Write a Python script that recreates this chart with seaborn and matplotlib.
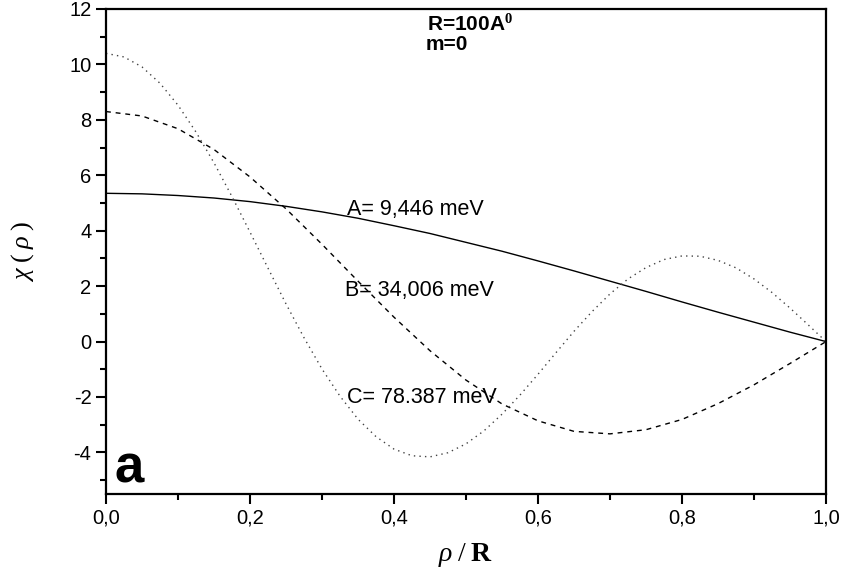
import numpy as np
import pandas as pd
import matplotlib
matplotlib.use("Agg")
import matplotlib.pyplot as plt
import seaborn as sns
from matplotlib.ticker import MultipleLocator, FuncFormatter

# ---- data ----
x_ab = [0.00, 0.05, 0.10, 0.15, 0.20, 0.25, 0.30, 0.35, 0.40, 0.45, 0.50,
        0.55, 0.60, 0.65, 0.70, 0.75, 0.80, 0.85, 0.90, 0.95, 1.00]
chi_A = [5.35, 5.33, 5.27, 5.18, 5.05, 4.88, 4.68, 4.45, 4.18, 3.90, 3.58,
         3.26, 2.91, 2.55, 2.18, 1.81, 1.43, 1.06, 0.70, 0.34, 0.00]
chi_B = [8.30, 8.14, 7.68, 6.93, 5.94, 4.79, 3.51, 2.18, 0.88, -0.33, -1.39,
         -2.25, -2.86, -3.24, -3.33, -3.18, -2.81, -2.24, -1.56, -0.79, 0.00]
x_c = [0.000, 0.025, 0.050, 0.075, 0.100, 0.125, 0.150, 0.175, 0.200, 0.225,
       0.250, 0.275, 0.300, 0.325, 0.350, 0.375, 0.400, 0.425, 0.450, 0.475,
       0.500, 0.525, 0.550, 0.575, 0.600, 0.625, 0.650, 0.675, 0.700, 0.725,
       0.750, 0.775, 0.800, 0.825, 0.850, 0.875, 0.900, 0.925, 0.950, 0.975, 1.000]
chi_C = [10.40, 10.27, 9.91, 9.32, 8.53, 7.56, 6.45, 5.23, 3.95, 2.65,
         1.36, 0.14, -0.99, -1.97, -2.80, -3.43, -3.88, -4.12, -4.16, -4.01,
         -3.69, -3.22, -2.62, -1.93, -1.18, -0.40, 0.37, 1.08, 1.72, 2.26,
         2.67, 2.96, 3.09, 3.08, 2.93, 2.66, 2.26, 1.77, 1.21, 0.61, 0.00]

labels = ["A= 9,446 meV", "B= 34,006 meV", "C= 78.387 meV"]
label_pos = [(0.335, 4.56), (0.332, 1.64), (0.335, -2.23)]

df_A = pd.DataFrame({"x": x_ab, "y": chi_A})
df_B = pd.DataFrame({"x": x_ab, "y": chi_B})
df_C = pd.DataFrame({"x": x_c, "y": chi_C})

sns.set_style("ticks")
plt.rcParams["font.family"] = ["Liberation Sans", "DejaVu Sans"]
plt.rcParams["axes.unicode_minus"] = False
plt.rcParams["mathtext.fontset"] = "custom"
plt.rcParams["mathtext.rm"] = "Liberation Serif"
plt.rcParams["mathtext.it"] = "Liberation Serif:italic"
plt.rcParams["mathtext.bf"] = "Liberation Serif:bold"
for k in ["text.color", "axes.labelcolor", "xtick.color", "ytick.color",
          "xtick.labelcolor", "ytick.labelcolor", "axes.edgecolor"]:
    plt.rcParams[k] = "black"

fig = plt.figure(figsize=(8.48, 5.80), dpi=100)
ax = fig.add_axes([106/848, 86/580, 720/848, 485/580])

sns.lineplot(data=df_A, x="x", y="y", ax=ax, color="black", lw=1.0,
             linestyle="-", estimator=None, sort=False)
sns.lineplot(data=df_B, x="x", y="y", ax=ax, color="black", lw=1.0,
             estimator=None, sort=False, dashes=False)
ax.lines[-1].set_dashes([3.5, 3.5])
sns.lineplot(data=df_C, x="x", y="y", ax=ax, color="#444444", lw=1.0,
             estimator=None, sort=False)
ax.lines[-1].set_dashes([1, 3])

ax.set_xlim(0, 1.0)
ax.set_ylim(-5.5, 12)
ax.xaxis.set_major_locator(MultipleLocator(0.2))
ax.xaxis.set_minor_locator(MultipleLocator(0.1))
ax.yaxis.set_major_locator(MultipleLocator(2))
ax.yaxis.set_minor_locator(MultipleLocator(1))
ax.xaxis.set_major_formatter(FuncFormatter(lambda v, p: f"{v:.1f}".replace(".", ",")))
ax.yaxis.set_major_formatter(FuncFormatter(lambda v, p: f"{int(round(v))}"))
ax.tick_params(which="major", direction="out", length=7.5, width=1.5,
               labelsize=14.5, color="black", top=False, right=False, pad=3)
ax.tick_params(which="minor", direction="out", length=4, width=1.5,
               top=False, right=False)
for s in ax.spines.values():
    s.set_linewidth(1.6)
    s.set_color("black")

ax.set_xlabel(r"$\mathit{\rho}\;/\;\mathbf{R}$", fontsize=20, labelpad=10)
ax.set_ylabel(r"$\chi\;(\;\mathit{\rho}\;)$", fontsize=19, labelpad=24)

for t, (tx, ty) in zip(labels, label_pos):
    ax.text(tx, ty, t, fontsize=15.5, ha="left", va="baseline")

ax.text(0.446, 11.2, r"R=100A$^\mathbf{0}$", fontsize=15, fontweight="bold",
        ha="left", va="baseline")
ax.text(0.444, 10.52, "m=0", fontsize=15, fontweight="bold",
        ha="left", va="baseline")
ax.text(0.012, -5.08, "a", fontsize=38, fontweight="bold",
        ha="left", va="baseline")

ax.set_facecolor("white")
fig.patch.set_facecolor("white")
fig.savefig("out.png", dpi=100)
